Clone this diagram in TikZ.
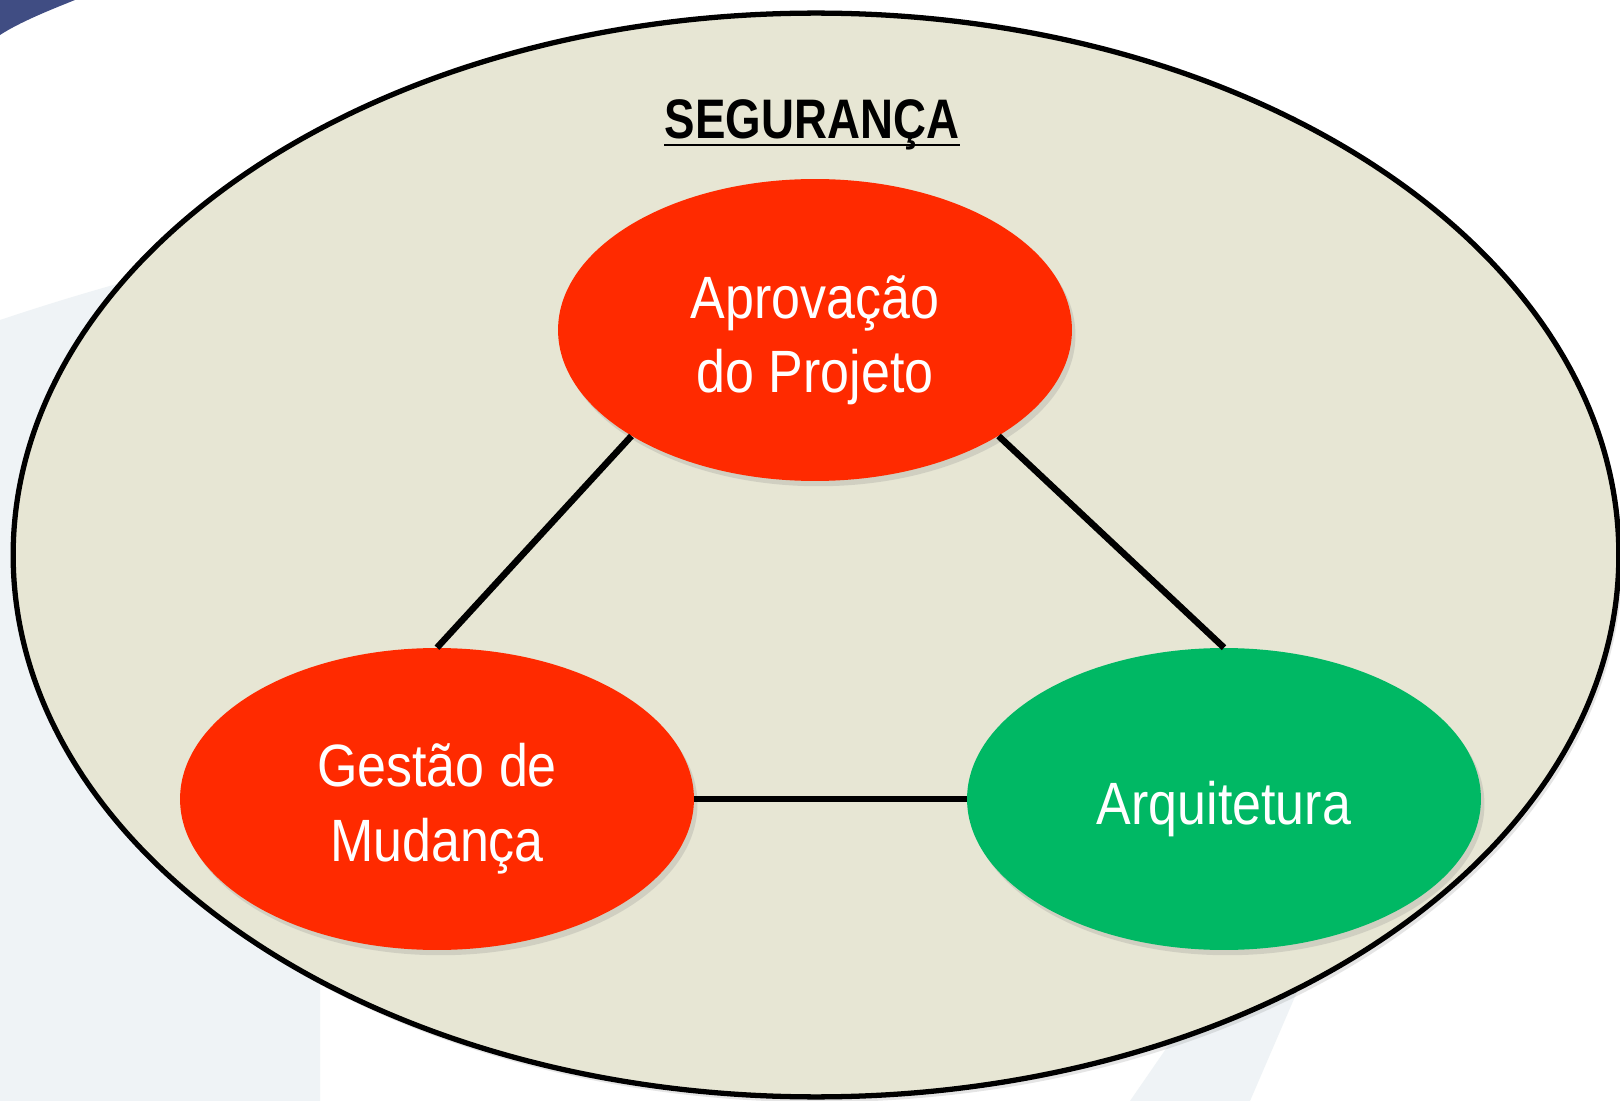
\documentclass[tikz,border=0pt]{standalone}
\usepackage{fontspec}
\setmainfont{Liberation Sans}
\newfontfamily\narrowfont[FakeStretch=0.87]{Liberation Sans}
\newfontfamily\titlefont[FakeStretch=0.82]{Liberation Sans Bold}
\usetikzlibrary{shapes.geometric,shadows}
\definecolor{beige}{HTML}{E7E6D4}
\definecolor{redbubble}{HTML}{FF2A00}
\definecolor{greenbubble}{HTML}{00B864}
\definecolor{watermark}{HTML}{EFF3F6}
\definecolor{navy}{HTML}{1F2F6E}
\newcommand\lift{\rule{0pt}{36pt}}
\tikzset{
  bubble/.style={ellipse,minimum width=10.28cm,minimum height=6.04cm,inner sep=0pt,
    text=white,align=center,font=\narrowfont\fontsize{34}{42.5}\selectfont,
    drop shadow={shadow xshift=2pt,shadow yshift=-3pt,opacity=.22}},
  link/.style={line width=3.7pt}
}
\begin{document}
\begin{tikzpicture}[x=0.02cm,y=-0.02cm]
\useasboundingbox (0,0) rectangle (1620,1101);
\fill[white] (0,0) rectangle (1620,1101);
\fill[watermark] (0,320) .. controls (120,280) and (220,255) .. (320,240) -- (320,1101) -- (0,1101) -- cycle;
\fill[watermark] (1130,1101) -- (1210,985) -- (1300,985) -- (1250,1101) -- cycle;
\fill[navy,opacity=.85] (0,0) -- (75,0) .. controls (50,10) and (20,22) .. (0,35) -- cycle;
\draw[line width=3pt,fill=beige,drop shadow={shadow xshift=2pt,shadow yshift=-3pt,opacity=.2}]
  (816,555) ellipse [x radius=16.06cm,y radius=10.84cm];
\node[font=\titlefont\fontsize{31.7}{38}\selectfont,anchor=base,inner sep=0pt] (title) at (812,139) {SEGURANÇA};
\draw[line width=1.6pt] ([yshift=-3.4pt]title.base west) -- ([yshift=-3.4pt]title.base east);
\node[bubble,fill=redbubble] (ap) at (815,330) {\lift Aprovação\\do Projeto};
\node[bubble,fill=redbubble] (gm) at (437,799) {\lift Gestão de\\Mudança};
\node[bubble,fill=greenbubble] (arq) at (1224,799) {\lift Arquitetura};
\draw[link] (gm.north) -- (ap.-150);
\draw[link] (arq.north) -- (ap.-30);
\draw[link] (gm.east) -- (arq.west);
\end{tikzpicture}
\end{document}
